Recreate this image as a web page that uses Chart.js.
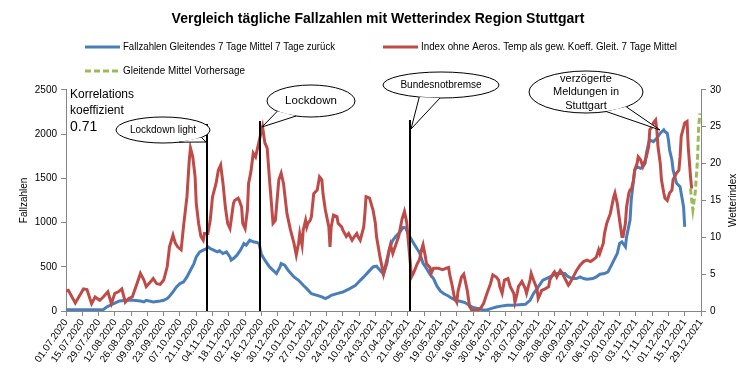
<!DOCTYPE html>
<html>
<head>
<meta charset="utf-8">
<title>Fallzahlen und Wetterindex Stuttgart</title>
<script src="https://cdn.jsdelivr.net/npm/chart.js@4.4.1/dist/chart.umd.min.js"></script>
<style>
  html, body { margin: 0; padding: 0; background: #fff; }
  #wrap { width: 756px; height: 379px; }
</style>
</head>
<body>
<div id="wrap"><canvas id="chart" width="756" height="379"></canvas></div>
<script>
// x axis = days since 01.07.2020, one tick every 14 days
const tickLabels = [
  '01.07.2020', '15.07.2020', '29.07.2020', '12.08.2020', '26.08.2020', '09.09.2020', '23.09.2020',
  '07.10.2020', '21.10.2020', '04.11.2020', '18.11.2020', '02.12.2020', '16.12.2020', '30.12.2020',
  '13.01.2021', '27.01.2021', '10.02.2021', '24.02.2021', '10.03.2021', '24.03.2021', '07.04.2021',
  '21.04.2021', '05.05.2021', '19.05.2021', '02.06.2021', '16.06.2021', '30.06.2021', '14.07.2021',
  '28.07.2021', '11.08.2021', '25.08.2021', '08.09.2021', '22.09.2021', '06.10.2021', '20.10.2021',
  '03.11.2021', '17.11.2021', '01.12.2021', '15.12.2021', '29.12.2021'
];

// Fallzahlen, 7-Tage-Mittel (left axis)
const caseDays = [
  0, 32, 35, 41, 46, 52, 58, 64, 67, 69, 75, 81, 84, 87, 89, 92, 95, 98, 101, 102,
  104, 107, 110, 112, 115, 118, 121, 122, 124, 127, 130, 132, 135, 138, 141, 142, 144, 147, 150, 153,
  155, 158, 161, 164, 166, 168, 171, 175, 181, 184, 185, 188, 191, 196, 200, 204, 207, 211, 216, 220,
  223, 226, 228, 233, 238, 241, 244, 249, 253, 256, 260, 264, 267, 270, 273, 276, 278, 281, 284, 287,
  290, 292, 294, 296, 299, 302, 304, 307, 310, 313, 316, 319, 322, 325, 328, 331, 335, 339, 343, 346,
  350, 356, 359, 362, 366, 370, 374, 379, 385, 390, 395, 399, 402, 405, 408, 410, 413, 416, 419, 422,
  429, 431, 435, 439, 442, 445, 448, 453, 456, 459, 463, 466, 469, 474, 476, 478, 479, 481, 482, 485,
  486, 488, 489, 491, 494, 496, 498, 499, 501, 502, 505, 508, 511, 514, 515, 517, 518, 519, 521, 522,
  525, 528, 529, 531, 532
];
const caseValues = [
  15, 15, 45, 83, 113, 121, 121, 113, 102, 121, 102, 113, 121, 140, 166, 215, 272, 310, 328, 347,
  385, 461, 536, 612, 668, 687, 706, 725, 706, 687, 668, 680, 649, 668, 612, 574, 593, 631, 687, 763,
  744, 800, 782, 775, 763, 640, 574, 498, 423, 498, 536, 517, 461, 385, 347, 291, 253, 196, 177, 159,
  140, 159, 177, 196, 215, 234, 253, 291, 347, 385, 442, 498, 506, 461, 415, 540, 700, 800, 850, 890,
  945, 940, 880, 830, 763, 700, 660, 540, 480, 414, 366, 280, 225, 195, 175, 150, 120, 110, 95, 70,
  40, 22, 10, 12, 30, 45, 55, 65, 65, 72, 76, 121, 197, 253, 310, 348, 367, 385, 404, 423,
  423, 395, 367, 367, 385, 367, 359, 367, 385, 415, 423, 442, 518, 650, 763, 782, 763, 725, 838, 1027,
  1254, 1480, 1594, 1631, 1612, 1631, 1669, 1782, 1896, 1933, 1914, 1952, 2009, 2047, 2028, 2009, 1933, 1820, 1707, 1594,
  1443, 1405, 1329, 1178, 951
];

// Wetterindex, 7-Tage-Mittel (right axis)
const indexDays = [
  0, 2, 8, 15, 18, 22, 25, 29, 32, 36, 39, 42, 45, 48, 51, 54, 57, 61, 64, 67,
  69, 74, 75, 78, 81, 84, 87, 89, 92, 94, 96, 99, 101, 104, 106, 107, 109, 111, 112, 114,
  115, 116, 118, 119, 122, 124, 126, 129, 131, 133, 135, 137, 139, 141, 142, 144, 145, 148, 149, 151,
  152, 154, 156, 157, 159, 161, 163, 165, 167, 169, 171, 173, 175, 178, 180, 183, 185, 187, 190, 193,
  196, 198, 200, 201, 203, 204, 206, 207, 208, 210, 211, 213, 216, 218, 220, 221, 223, 226, 227, 228,
  230, 233, 234, 237, 238, 241, 243, 246, 248, 250, 251, 253, 256, 257, 258, 261, 264, 266, 267, 270,
  273, 276, 279, 281, 284, 286, 289, 291, 293, 294, 296, 297, 299, 302, 304, 306, 307, 309, 310, 313,
  314, 316, 320, 324, 327, 329, 330, 332, 334, 336, 337, 340, 342, 343, 345, 347, 349, 352, 355, 357,
  359, 362, 365, 367, 370, 372, 373, 375, 377, 380, 382, 385, 386, 388, 389, 392, 395, 396, 399, 400,
  402, 405, 406, 408, 409, 412, 415, 416, 419, 420, 422, 425, 426, 429, 432, 433, 436, 439, 442, 445,
  448, 451, 453, 456, 458, 459, 462, 463, 465, 468, 471, 472, 474, 476, 478, 479, 481, 482, 484, 485,
  486, 488, 489, 491, 492, 494, 496, 499, 501, 502, 504, 505, 507, 508, 509, 511, 512, 514, 515, 517,
  518, 519, 521, 522, 525, 527, 528, 529, 532, 534, 535, 537, 538
];
const indexValues = [
  2.7, 2.8, 1.1, 3.0, 2.9, 1.0, 1.9, 1.45, 1.9, 2.6, 1.0, 2.4, 2.6, 3.0, 1.2, 1.7, 1.9, 3.7, 5.1, 4.2,
  3.3, 4.2, 4.4, 3.7, 3.6, 4.2, 6.0, 8.7, 10.3, 9.2, 8.7, 8.3, 11.4, 15.5, 20.5, 22.1, 20.9, 18.2, 14.6, 11.9,
  11.0, 10.1, 9.6, 10.5, 10.5, 12.3, 15.5, 17.3, 19.1, 19.8, 17.3, 14.1, 11.9, 11.2, 12.3, 14.6, 15.0, 15.3, 15.0, 14.1,
  11.9, 11.2, 13.7, 17.3, 18.9, 21.4, 20.9, 22.3, 23.7, 25.0, 22.8, 22.1, 17.8, 11.9, 12.3, 17.8, 18.7, 17.3, 13.2, 11.0,
  9.2, 7.6, 9.2, 10.5, 8.9, 11.0, 12.3, 11.4, 11.9, 12.3, 12.8, 15.9, 16.4, 18.2, 17.8, 15.9, 13.7, 11.4, 8.7, 11.4,
  13.0, 12.8, 11.9, 11.4, 11.0, 10.1, 10.5, 9.6, 10.1, 10.5, 10.1, 9.6, 11.4, 13.2, 15.5, 15.3, 13.7, 11.9, 10.1, 7.3,
  5.0, 7.0, 9.0, 7.8, 9.2, 10.1, 12.5, 13.5, 12.0, 10.1, 6.6, 4.6, 5.2, 6.4, 7.0, 8.5, 9.0, 7.4, 6.4, 5.9,
  5.1, 5.8, 5.8, 5.6, 5.8, 5.9, 4.9, 3.5, 1.8, 1.2, 2.6, 4.6, 5.0, 4.3, 2.8, 0.6, 0.1, 0.1, 0.2, 0.5,
  1.0, 2.4, 3.7, 4.9, 4.6, 4.2, 3.3, 2.4, 4.2, 4.4, 3.3, 2.4, 1.2, 2.4, 3.3, 4.0, 3.0, 2.4, 4.2, 5.1,
  4.2, 3.0, 1.7, 2.4, 2.8, 3.0, 3.3, 4.2, 5.1, 5.3, 4.6, 5.5, 5.3, 4.4, 3.5, 3.7, 4.6, 5.5, 6.2, 6.7,
  6.9, 6.7, 6.9, 7.3, 8.3, 7.8, 9.2, 10.5, 11.9, 13.2, 15.5, 16.0, 14.6, 12.3, 10.1, 10.1, 11.9, 14.1, 16.0, 16.4,
  16.4, 17.8, 19.1, 20.0, 20.9, 20.5, 19.6, 20.9, 22.3, 24.6, 25.0, 25.5, 25.9, 24.6, 22.3, 20.0, 17.8, 16.0, 15.3, 15.0,
  15.5, 16.0, 16.4, 17.8, 18.7, 19.1, 20.9, 23.7, 25.5, 25.7, 22.3, 18.2, 16.6
];

// Vorhersage (right axis)
const forecastDays = [537, 538, 539, 541, 543, 544, 545];
const forecastValues = [16.6, 15.0, 13.7, 16.0, 20.5, 25.0, 26.8];

// Lockdown light, Lockdown, Bundesnotbremse
const eventDays = [121, 167, 296];

const FONT = "'Liberation Sans', Arial, sans-serif";
Chart.defaults.font.family = FONT;
Chart.defaults.color = '#000';

const toPoints = (xs, ys) => xs.map((d, i) => ({ x: d, y: ys[i] }));

function callout(ctx, c) {
  const p = a => [c.cx + c.rx * Math.cos(a * Math.PI / 180), c.cy + c.ry * Math.sin(a * Math.PI / 180)];
  const b1 = p(c.a1), b2 = p(c.a2);
  ctx.lineWidth = 1;
  ctx.strokeStyle = '#000';
  ctx.fillStyle = '#fff';
  ctx.beginPath();
  ctx.ellipse(c.cx, c.cy, c.rx, c.ry, 0, 0, Math.PI * 2);
  ctx.fill();
  ctx.stroke();
  ctx.beginPath();
  ctx.moveTo(b1[0], b1[1]);
  ctx.lineTo(c.tip[0], c.tip[1]);
  ctx.lineTo(b2[0], b2[1]);
  ctx.closePath();
  ctx.fill();
  ctx.beginPath();
  ctx.moveTo(b1[0], b1[1]);
  ctx.lineTo(c.tip[0], c.tip[1]);
  ctx.lineTo(b2[0], b2[1]);
  ctx.stroke();
  ctx.fillStyle = '#000';
  ctx.textAlign = 'center';
  ctx.textBaseline = 'middle';
  ctx.font = c.size + 'px ' + FONT;
  const start = c.cy - (c.lines.length - 1) * c.gap / 2;
  c.lines.forEach((t, i) => ctx.fillText(t, c.cx, start + i * c.gap));
}

const overlay = {
  id: 'overlay',
  afterDraw(chart) {
    const ctx = chart.ctx;
    const xs = chart.scales.x;
    const area = chart.chartArea;
    ctx.save();

    // event markers
    const tops = [124, 121, 120];
    ctx.strokeStyle = '#000';
    ctx.lineWidth = 2;
    eventDays.forEach((d, i) => {
      const px = Math.round(xs.getPixelForValue(d));
      ctx.beginPath();
      ctx.moveTo(px, tops[i]);
      ctx.lineTo(px, area.bottom);
      ctx.stroke();
    });

    // callouts
    callout(ctx, { cx: 163, cy: 130, rx: 47, ry: 13, a1: 35, a2: 70, tip: [206, 142], lines: ['Lockdown light'], size: 10, gap: 12 });
    callout(ctx, { cx: 311, cy: 101, rx: 44, ry: 16, a1: 110, a2: 140, tip: [262, 127], lines: ['Lockdown'], size: 11.5, gap: 12 });
    callout(ctx, { cx: 441, cy: 85, rx: 58, ry: 13, a1: 91, a2: 112, tip: [411, 129], lines: ['Bundesnotbremse'], size: 10, gap: 12 });
    callout(ctx, { cx: 586, cy: 92, rx: 57, ry: 21, a1: 45, a2: 69, tip: [660, 130], lines: ['verzögerte', 'Meldungen in', 'Stuttgart'], size: 11, gap: 13.5 });

    // correlation note
    ctx.fillStyle = '#000';
    ctx.textAlign = 'left';
    ctx.textBaseline = 'middle';
    ctx.font = '12px ' + FONT;
    ctx.fillText('Korrelations', 70, 95);
    ctx.fillText('koeffizient', 70, 111);
    ctx.font = '14px ' + FONT;
    ctx.fillText('0.71', 70, 127);

    // legend
    const ds = chart.data.datasets;
    const items = [
      { i: 0, x: 85, y: 47, w: 212 },
      { i: 1, x: 383, y: 47, w: 256 },
      { i: 2, x: 85, y: 71, w: 122 }
    ];
    ctx.font = '10px ' + FONT;
    items.forEach(it => {
      const d = ds[it.i];
      ctx.strokeStyle = d.borderColor;
      ctx.lineWidth = 3;
      ctx.setLineDash(d.borderDash || []);
      ctx.beginPath();
      ctx.moveTo(it.x, it.y);
      ctx.lineTo(it.x + 35, it.y);
      ctx.stroke();
      ctx.setLineDash([]);
      ctx.fillStyle = '#000';
      ctx.fillText(d.label, it.x + 38, it.y, it.w);
    });

    // right axis title, reads bottom to top
    ctx.translate(733.5, (area.top + area.bottom) / 2);
    ctx.rotate(-Math.PI / 2);
    ctx.textAlign = 'center';
    ctx.font = '10px ' + FONT;
    ctx.fillText('Wetterindex', 0, 0);
    ctx.restore();
  }
};

const axisGrey = '#868686';

new Chart(document.getElementById('chart'), {
  type: 'line',
  data: {
    datasets: [
      {
        label: 'Fallzahlen Gleitendes 7 Tage Mittel 7 Tage zurück',
        data: toPoints(caseDays, caseValues),
        yAxisID: 'y',
        borderColor: '#4A7EBB',
        borderWidth: 3,
        pointRadius: 0,
        tension: 0,
        order: 2
      },
      {
        label: 'Index ohne Aeros. Temp als gew. Koeff. Gleit. 7 Tage Mittel',
        data: toPoints(indexDays, indexValues),
        yAxisID: 'y1',
        borderColor: '#BE4B48',
        borderWidth: 3,
        pointRadius: 0,
        tension: 0,
        order: 1
      },
      {
        label: 'Gleitende Mittel Vorhersage',
        data: toPoints(forecastDays, forecastValues),
        yAxisID: 'y1',
        borderColor: '#9BBB59',
        borderWidth: 3,
        borderDash: [6, 3],
        pointRadius: 0,
        tension: 0,
        order: 0
      }
    ]
  },
  options: {
    responsive: false,
    animation: false,
    devicePixelRatio: 1,
    layout: { padding: 0 },
    plugins: {
      legend: { display: false },
      tooltip: { enabled: false },
      title: {
        display: true,
        text: 'Vergleich tägliche Fallzahlen mit Wetterindex Region Stuttgart',
        font: { size: 14, weight: 'bold' },
        color: '#000',
        padding: { top: 11, bottom: 62 }
      }
    },
    scales: {
      x: {
        type: 'linear',
        min: 0,
        max: 546,
        afterFit: s => { s.height = 68; },
        grid: { drawOnChartArea: false, tickLength: 5, color: axisGrey },
        border: { color: axisGrey },
        ticks: {
          stepSize: 14,
          autoSkip: false,
          minRotation: 55,
          maxRotation: 55,
          padding: 1,
          font: { size: 10 },
          callback: (v, i) => tickLabels[i]
        }
      },
      y: {
        position: 'left',
        min: 0,
        max: 2500,
        afterFit: s => { s.width = 66; },
        grid: { drawOnChartArea: false, tickLength: 5, color: axisGrey },
        border: { color: axisGrey },
        ticks: { stepSize: 500, padding: 4, font: { size: 10 }, callback: v => String(v) },
        title: { display: true, text: 'Fallzahlen', font: { size: 10 }, padding: { top: 18, bottom: 0 } }
      },
      y1: {
        position: 'right',
        min: 0,
        max: 30,
        afterFit: s => { s.width = 55; },
        grid: { drawOnChartArea: false, tickLength: 5, color: axisGrey },
        border: { color: axisGrey },
        ticks: { stepSize: 5, padding: 4, font: { size: 10 }, callback: v => String(v) }
      }
    }
  },
  plugins: [overlay]
});
</script>
</body>
</html>
